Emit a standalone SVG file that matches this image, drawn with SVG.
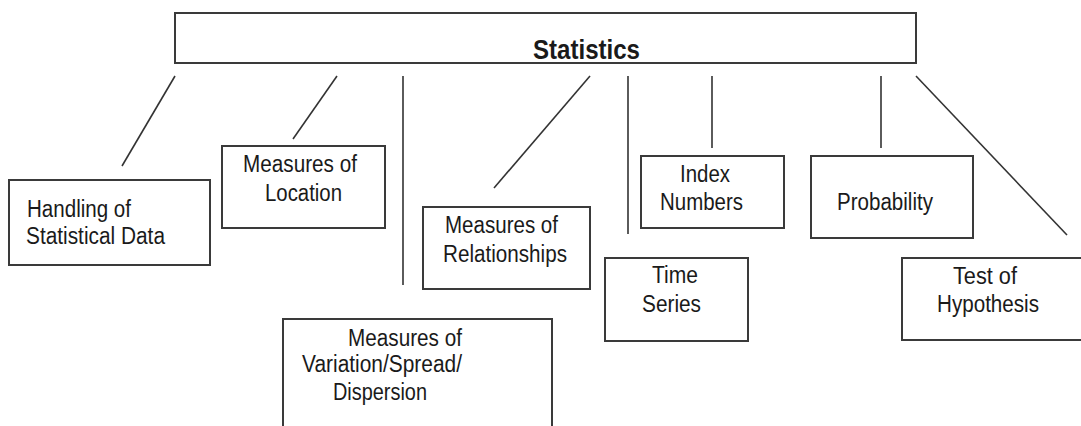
<svg xmlns="http://www.w3.org/2000/svg" width="1081" height="426" viewBox="0 0 1081 426">
<style>
.box{fill:#fff;stroke:#3a3a3a;stroke-width:2}
.conn line{stroke:#333;stroke-width:1.6;fill:none}
text{font-family:"Liberation Sans",Arial,sans-serif;font-size:23px;fill:#1a1a1a}
.title{font-weight:bold;font-size:27px}
</style>
<rect width="1081" height="426" fill="#fff"/>
<g id="connectors" class="conn">
<line x1="175" y1="76" x2="122" y2="166"/>
<line x1="337" y1="76" x2="293" y2="139"/>
<line x1="403" y1="76" x2="403" y2="285"/>
<line x1="590" y1="76" x2="494" y2="188"/>
<line x1="628" y1="76" x2="628" y2="234"/>
<line x1="712" y1="76" x2="712" y2="148"/>
<line x1="881" y1="76" x2="881" y2="148"/>
<line x1="916" y1="76" x2="1067" y2="235"/>
</g>
<g id="statistics">
<rect class="box" x="175" y="13" width="741" height="50"/>
<text class="title" x="533" y="59" textLength="107" lengthAdjust="spacingAndGlyphs">Statistics</text>
</g>
<g id="handling">
<rect class="box" x="9" y="180" width="201" height="85"/>
<text x="27" y="217" textLength="104" lengthAdjust="spacingAndGlyphs">Handling of</text>
<text x="26" y="244" textLength="139" lengthAdjust="spacingAndGlyphs">Statistical Data</text>
</g>
<g id="location">
<rect class="box" x="222" y="146" width="163" height="82"/>
<text x="243" y="172" textLength="114" lengthAdjust="spacingAndGlyphs">Measures of</text>
<text x="265" y="201" textLength="77" lengthAdjust="spacingAndGlyphs">Location</text>
</g>
<g id="variation">
<rect class="box" x="283" y="319" width="269" height="115"/>
<text x="348" y="346" textLength="114" lengthAdjust="spacingAndGlyphs">Measures of</text>
<text x="302" y="372" textLength="160" lengthAdjust="spacingAndGlyphs">Variation/Spread/</text>
<text x="333" y="400" textLength="94" lengthAdjust="spacingAndGlyphs">Dispersion</text>
</g>
<g id="relationships">
<rect class="box" x="423" y="207" width="167" height="82"/>
<text x="445" y="233" textLength="113" lengthAdjust="spacingAndGlyphs">Measures of</text>
<text x="443" y="262" textLength="124" lengthAdjust="spacingAndGlyphs">Relationships</text>
</g>
<g id="timeseries">
<rect class="box" x="605" y="258" width="143" height="83"/>
<text x="652" y="283" textLength="46" lengthAdjust="spacingAndGlyphs">Time</text>
<text x="642" y="312" textLength="59" lengthAdjust="spacingAndGlyphs">Series</text>
</g>
<g id="index">
<rect class="box" x="641" y="156" width="143" height="72"/>
<text x="680" y="182" textLength="50" lengthAdjust="spacingAndGlyphs">Index</text>
<text x="660" y="210" textLength="83" lengthAdjust="spacingAndGlyphs">Numbers</text>
</g>
<g id="probability">
<rect class="box" x="811" y="156" width="162" height="82"/>
<text x="837" y="210" textLength="96" lengthAdjust="spacingAndGlyphs">Probability</text>
</g>
<g id="hypothesis">
<rect class="box" x="902" y="258" width="190" height="82"/>
<text x="953" y="284" textLength="64" lengthAdjust="spacingAndGlyphs">Test of</text>
<text x="937" y="312" textLength="102" lengthAdjust="spacingAndGlyphs">Hypothesis</text>
</g>
</svg>
